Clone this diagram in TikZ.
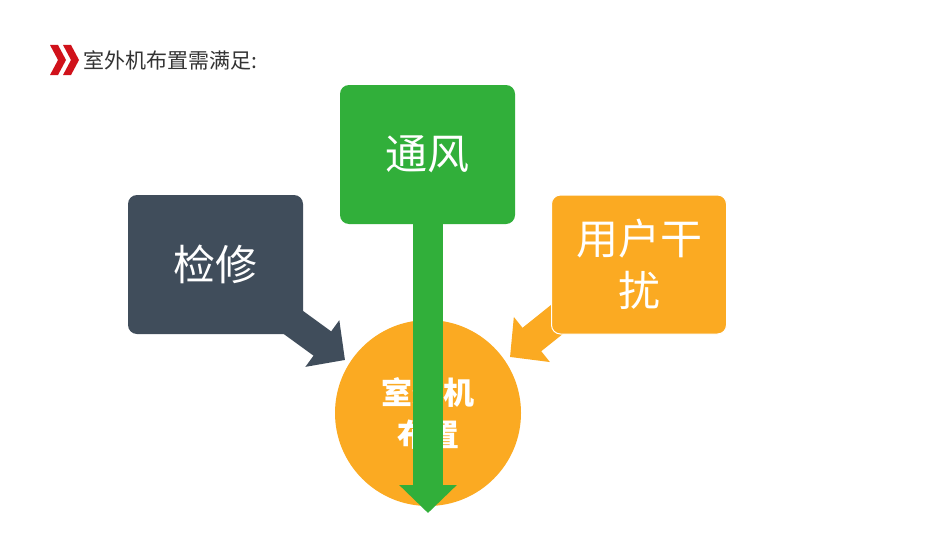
\documentclass[tikz,border=0pt]{standalone}
\usepackage{fontspec}
\setmainfont{Noto Sans CJK SC}
\usetikzlibrary{arrows.meta}
\definecolor{gr}{HTML}{31AF3A}
\definecolor{dk}{HTML}{404D5B}
\definecolor{org}{HTML}{FBAA22}
\definecolor{rd}{HTML}{D0121B}
\tikzset{
 box/.style={rounded corners=9pt,minimum width=175pt,minimum height=139pt,text=white,font=\fontsize{42}{52}\selectfont,align=center,inner sep=0pt},
 arr/.style={line width=30pt,-{Triangle[width=56pt,length=28pt]}}
}
\begin{document}
\begin{tikzpicture}[x=1pt,y=-1pt]
\useasboundingbox[fill=white] (0,0) rectangle (950,535);
% title
\fill[rd] (50,45)--(58,45)--(66,60)--(58,75)--(50,75)--(58,60)--cycle;
\fill[rd] (63,45)--(71,45)--(79,60)--(71,75)--(63,75)--(71,60)--cycle;
\node[anchor=west,inner sep=0pt,text=black!80,font=\fontsize{21}{24}\selectfont] (title) at (83,60) {室外机布置需满足:};
% circle
\node[circle,fill=org,minimum size=186pt,inner sep=0pt,text=white,align=center,font=\fontsize{31}{42}\selectfont\bfseries] (c) at (428,413) {室外机\\布置};
% arrows
\coordinate (gt) at (428,224);
\coordinate (dt) at (290,320);
\coordinate (ot) at (575,305);
\draw[arr,gr] (gt) -- ([yshift=-100pt]c.center);
\draw[arr,dk] (dt) -- (345,360);
\draw[arr,org] (ot) -- (510,357);
% boxes
\node[box,fill=gr] (g) at (427.5,154.5) {通风};
\node[box,fill=dk] (d) at (215.5,264.5) {检修};
\node[box,fill=org,draw=white,line width=1pt] (o) at (639,264.5) {用户干\\扰};
\end{tikzpicture}
\end{document}
